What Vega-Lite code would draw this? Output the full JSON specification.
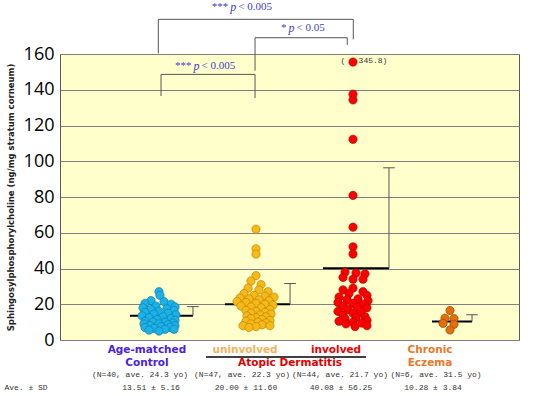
{
  "$schema": "https://vega.github.io/schema/vega-lite/v6.json",
  "width": 459,
  "height": 286,
  "autosize": {"type": "none"},
  "padding": {"left": 60, "top": 54, "right": 31, "bottom": 54},
  "background": "white",
  "config": {
    "view": {"fill": "#FFFFCC", "stroke": "#5a5a5a", "strokeWidth": 1},
    "axisY": {
      "grid": true, "gridColor": "#7f7f7f", "gridWidth": 1, "gridOpacity": 1,
      "domain": false, "ticks": false,
      "labelFont": "Open Sans", "labelFontSize": 18, "labelColor": "#000000", "labelPadding": 6,
      "titleFont": "DejaVu Sans", "titleFontSize": 8.5, "titleFontWeight": "bold", "titleColor": "#222222", "titlePadding": 8
    }
  },
  "datasets": {
    "points": [
      {"group": "Control", "x": 1.0, "value": 27.0},
      {"group": "Control", "x": 1.01, "value": 25.0},
      {"group": "Control", "x": 0.918, "value": 22.0},
      {"group": "Control", "x": 1.052, "value": 21.5},
      {"group": "Control", "x": 0.856, "value": 20.5},
      {"group": "Control", "x": 1.124, "value": 20.0},
      {"group": "Control", "x": 0.969, "value": 19.0},
      {"group": "Control", "x": 1.165, "value": 18.5},
      {"group": "Control", "x": 0.835, "value": 18.0},
      {"group": "Control", "x": 1.082, "value": 17.5},
      {"group": "Control", "x": 0.918, "value": 17.0},
      {"group": "Control", "x": 1.155, "value": 16.5},
      {"group": "Control", "x": 1.0, "value": 16.0},
      {"group": "Control", "x": 0.856, "value": 15.5},
      {"group": "Control", "x": 1.093, "value": 15.0},
      {"group": "Control", "x": 0.948, "value": 14.5},
      {"group": "Control", "x": 1.175, "value": 14.0},
      {"group": "Control", "x": 0.825, "value": 13.5},
      {"group": "Control", "x": 1.041, "value": 13.0},
      {"group": "Control", "x": 0.897, "value": 12.5},
      {"group": "Control", "x": 1.124, "value": 12.0},
      {"group": "Control", "x": 0.979, "value": 11.5},
      {"group": "Control", "x": 1.165, "value": 11.0},
      {"group": "Control", "x": 0.856, "value": 10.5},
      {"group": "Control", "x": 1.062, "value": 10.0},
      {"group": "Control", "x": 0.938, "value": 10.0},
      {"group": "Control", "x": 1.144, "value": 9.5},
      {"group": "Control", "x": 0.845, "value": 9.0},
      {"group": "Control", "x": 1.0, "value": 9.0},
      {"group": "Control", "x": 1.093, "value": 8.5},
      {"group": "Control", "x": 0.907, "value": 8.0},
      {"group": "Control", "x": 1.165, "value": 8.0},
      {"group": "Control", "x": 1.021, "value": 7.5},
      {"group": "Control", "x": 0.856, "value": 7.0},
      {"group": "Control", "x": 1.113, "value": 7.0},
      {"group": "Control", "x": 0.948, "value": 6.5},
      {"group": "Control", "x": 1.062, "value": 6.0},
      {"group": "Control", "x": 1.155, "value": 6.0},
      {"group": "Control", "x": 0.897, "value": 5.5},
      {"group": "Control", "x": 1.0, "value": 5.0},
      {"group": "uninvolved", "x": 2.0, "value": 62},
      {"group": "uninvolved", "x": 2.0, "value": 51},
      {"group": "uninvolved", "x": 2.0, "value": 48},
      {"group": "uninvolved", "x": 2.0, "value": 36},
      {"group": "uninvolved", "x": 1.948, "value": 33},
      {"group": "uninvolved", "x": 2.052, "value": 31},
      {"group": "uninvolved", "x": 1.918, "value": 29},
      {"group": "uninvolved", "x": 2.031, "value": 28},
      {"group": "uninvolved", "x": 2.124, "value": 27},
      {"group": "uninvolved", "x": 1.876, "value": 26},
      {"group": "uninvolved", "x": 1.979, "value": 25},
      {"group": "uninvolved", "x": 2.093, "value": 24.5},
      {"group": "uninvolved", "x": 2.186, "value": 24},
      {"group": "uninvolved", "x": 1.835, "value": 23.5},
      {"group": "uninvolved", "x": 1.928, "value": 23},
      {"group": "uninvolved", "x": 2.031, "value": 22.5},
      {"group": "uninvolved", "x": 2.134, "value": 22},
      {"group": "uninvolved", "x": 1.804, "value": 21.5},
      {"group": "uninvolved", "x": 1.897, "value": 21},
      {"group": "uninvolved", "x": 2.0, "value": 20.5},
      {"group": "uninvolved", "x": 2.093, "value": 20},
      {"group": "uninvolved", "x": 2.175, "value": 19.5},
      {"group": "uninvolved", "x": 1.845, "value": 19},
      {"group": "uninvolved", "x": 1.948, "value": 18.5},
      {"group": "uninvolved", "x": 2.052, "value": 18},
      {"group": "uninvolved", "x": 2.144, "value": 17},
      {"group": "uninvolved", "x": 1.897, "value": 16.5},
      {"group": "uninvolved", "x": 2.0, "value": 16},
      {"group": "uninvolved", "x": 2.093, "value": 15.5},
      {"group": "uninvolved", "x": 1.948, "value": 15},
      {"group": "uninvolved", "x": 2.155, "value": 14.5},
      {"group": "uninvolved", "x": 2.041, "value": 14},
      {"group": "uninvolved", "x": 1.907, "value": 13.5},
      {"group": "uninvolved", "x": 2.103, "value": 13},
      {"group": "uninvolved", "x": 2.0, "value": 12.5},
      {"group": "uninvolved", "x": 1.948, "value": 12},
      {"group": "uninvolved", "x": 2.062, "value": 11.5},
      {"group": "uninvolved", "x": 2.144, "value": 11},
      {"group": "uninvolved", "x": 1.897, "value": 10.5},
      {"group": "uninvolved", "x": 2.021, "value": 10},
      {"group": "uninvolved", "x": 2.103, "value": 9.5},
      {"group": "uninvolved", "x": 1.948, "value": 9},
      {"group": "uninvolved", "x": 2.062, "value": 8.5},
      {"group": "uninvolved", "x": 1.866, "value": 8},
      {"group": "uninvolved", "x": 2.144, "value": 8},
      {"group": "uninvolved", "x": 2.0, "value": 7.5},
      {"group": "uninvolved", "x": 1.928, "value": 7},
      {"group": "involved", "x": 3.0, "value": 155.5},
      {"group": "involved", "x": 3.0, "value": 137.5},
      {"group": "involved", "x": 3.0, "value": 134.3},
      {"group": "involved", "x": 3.0, "value": 112.3},
      {"group": "involved", "x": 3.0, "value": 80.9},
      {"group": "involved", "x": 3.0, "value": 63.1},
      {"group": "involved", "x": 3.0, "value": 52.1},
      {"group": "involved", "x": 3.0, "value": 48.1},
      {"group": "involved", "x": 2.918, "value": 38},
      {"group": "involved", "x": 3.031, "value": 37.5},
      {"group": "involved", "x": 3.124, "value": 37},
      {"group": "involved", "x": 2.897, "value": 35},
      {"group": "involved", "x": 3.0, "value": 34},
      {"group": "involved", "x": 3.103, "value": 34},
      {"group": "involved", "x": 3.0, "value": 29},
      {"group": "involved", "x": 2.897, "value": 28},
      {"group": "involved", "x": 3.103, "value": 27},
      {"group": "involved", "x": 2.959, "value": 26},
      {"group": "involved", "x": 3.144, "value": 25},
      {"group": "involved", "x": 2.856, "value": 24},
      {"group": "involved", "x": 3.052, "value": 23},
      {"group": "involved", "x": 2.938, "value": 22.5},
      {"group": "involved", "x": 3.155, "value": 22},
      {"group": "involved", "x": 2.845, "value": 21},
      {"group": "involved", "x": 3.0, "value": 20.5},
      {"group": "involved", "x": 3.103, "value": 20},
      {"group": "involved", "x": 2.897, "value": 19},
      {"group": "involved", "x": 3.041, "value": 18.5},
      {"group": "involved", "x": 3.144, "value": 18},
      {"group": "involved", "x": 2.948, "value": 17},
      {"group": "involved", "x": 2.845, "value": 16},
      {"group": "involved", "x": 3.082, "value": 15.5},
      {"group": "involved", "x": 3.0, "value": 15},
      {"group": "involved", "x": 2.897, "value": 14},
      {"group": "involved", "x": 3.124, "value": 13},
      {"group": "involved", "x": 3.031, "value": 12.5},
      {"group": "involved", "x": 2.918, "value": 12},
      {"group": "involved", "x": 3.144, "value": 11},
      {"group": "involved", "x": 2.856, "value": 10.5},
      {"group": "involved", "x": 3.0, "value": 10},
      {"group": "involved", "x": 3.093, "value": 9.5},
      {"group": "involved", "x": 2.928, "value": 9},
      {"group": "involved", "x": 3.144, "value": 8},
      {"group": "involved", "x": 3.021, "value": 7.5},
      {"group": "Chronic", "x": 4.0, "value": 16.5},
      {"group": "Chronic", "x": 3.948, "value": 12.2},
      {"group": "Chronic", "x": 4.041, "value": 12.0},
      {"group": "Chronic", "x": 3.928, "value": 9.3},
      {"group": "Chronic", "x": 4.041, "value": 8.8},
      {"group": "Chronic", "x": 4.0, "value": 5.6}
    ],
    "stats": [
      {"group": "Control", "mean": 13.51, "sd": 5.16, "start": 0.70, "end": 1.35},
      {"group": "uninvolved", "mean": 20.0, "sd": 11.6, "start": 1.68, "end": 2.351},
      {"group": "involved", "mean": 40.08, "sd": 56.25, "start": 2.691, "end": 3.371},
      {"group": "Chronic", "mean": 10.28, "sd": 3.84, "start": 3.814, "end": 4.227}
    ],
    "brackets": [
      {"x": 0.993, "x2": 3.003, "y": 179.4, "y2": 179.4},
      {"x": 0.993, "x2": 0.993, "y": 179.4, "y2": 160.4},
      {"x": 3.003, "x2": 3.003, "y": 179.4, "y2": 168.2},
      {"x": 1.99, "x2": 2.941, "y": 169.1, "y2": 169.1},
      {"x": 1.99, "x2": 1.99, "y": 169.1, "y2": 150.7},
      {"x": 2.941, "x2": 2.941, "y": 169.1, "y2": 165.0},
      {"x": 1.021, "x2": 1.99, "y": 148.6, "y2": 148.6},
      {"x": 1.021, "x2": 1.021, "y": 148.6, "y2": 136.5},
      {"x": 1.99, "x2": 1.99, "y": 148.6, "y2": 135.4}
    ],
    "ptext": [
      {"x": 1.765, "y": 186.3, "stars": "***", "rest": "< 0.005"},
      {"x": 2.366, "y": 174.4, "stars": "*", "rest": "< 0.05"},
      {"x": 1.387, "y": 153.3, "stars": "***", "rest": "< 0.005"}
    ],
    "labels": [
      {"text": "Age-matched", "cat": "ctrl", "x": 0.876, "y": -5.6},
      {"text": "Control", "cat": "ctrl", "x": 0.876, "y": -12.6},
      {"text": "uninvolved", "cat": "uninv", "x": 1.887, "y": -5.6},
      {"text": "involved", "cat": "inv", "x": 2.825, "y": -5.6},
      {"text": "Atopic Dermatitis", "cat": "ad", "x": 2.351, "y": -12.9},
      {"text": "Chronic", "cat": "ce", "x": 3.794, "y": -5.6},
      {"text": "Eczema", "cat": "ce", "x": 3.794, "y": -12.6}
    ],
    "notes": [
      {"text": "(N=40, ave. 24.3 yo)", "x": 0.804, "y": -19.6},
      {"text": "(N=47, ave. 22.3 yo)", "x": 1.856, "y": -19.6},
      {"text": "(N=44, ave. 21.7 yo)", "x": 2.866, "y": -19.6},
      {"text": "(N=6, ave. 31.5 yo)", "x": 3.856, "y": -19.6},
      {"text": "13.51 ± 5.16", "x": 0.918, "y": -26.9},
      {"text": "20.00 ± 11.60", "x": 1.897, "y": -26.9},
      {"text": "40.08 ± 56.25", "x": 2.876, "y": -26.9},
      {"text": "10.28 ± 3.84", "x": 3.825, "y": -26.9},
      {"text": "Ave. ± SD", "x": -0.371, "y": -26.9},
      {"text": "(", "x": 2.897, "y": 156.1},
      {"text": "345.8)", "x": 3.206, "y": 156.1}
    ],
    "underline": [
      {"x": 1.485, "x2": 3.134, "y": -9.5}
    ]
  },
  "layer": [
    {
      "data": {"name": "brackets"},
      "mark": {"type": "rule", "color": "#555555", "strokeWidth": 1},
      "encoding": {
        "x": {"field": "x", "type": "quantitative", "scale": {"domain": [-0.0206, 4.7113], "nice": false, "zero": false}, "axis": null},
        "x2": {"field": "x2"},
        "y": {"field": "y", "type": "quantitative", "scale": {"domain": [0, 160], "nice": false, "zero": false},
          "axis": {"values": [0, 20, 40, 60, 80, 100, 120, 140, 160], "title": "Sphingosylphosphorylcholine (ng/mg stratum corneum)"}},
        "y2": {"field": "y2"}
      }
    },
    {
      "data": {"name": "stats"},
      "mark": {"type": "rule", "color": "#000000", "strokeWidth": 2},
      "encoding": {
        "x": {"field": "start", "type": "quantitative", "scale": {"domain": [-0.0206, 4.7113], "nice": false, "zero": false}, "axis": null},
        "x2": {"field": "end"},
        "y": {"field": "mean", "type": "quantitative", "scale": {"domain": [0, 160], "nice": false, "zero": false},
          "axis": {"values": [0, 20, 40, 60, 80, 100, 120, 140, 160], "title": "Sphingosylphosphorylcholine (ng/mg stratum corneum)"}}
      }
    },
    {
      "data": {"name": "stats"},
      "transform": [{"calculate": "datum.mean + datum.sd", "as": "upper"}],
      "mark": {"type": "rule", "color": "#555555", "strokeWidth": 1},
      "encoding": {
        "x": {"field": "end", "type": "quantitative", "scale": {"domain": [-0.0206, 4.7113], "nice": false, "zero": false}, "axis": null},
        "y": {"field": "mean", "type": "quantitative", "scale": {"domain": [0, 160], "nice": false, "zero": false},
          "axis": {"values": [0, 20, 40, 60, 80, 100, 120, 140, 160], "title": "Sphingosylphosphorylcholine (ng/mg stratum corneum)"}},
        "y2": {"field": "upper"}
      }
    },
    {
      "data": {"name": "stats"},
      "transform": [
        {"calculate": "datum.mean + datum.sd", "as": "upper"},
        {"calculate": "datum.end - 0.06", "as": "capL"},
        {"calculate": "datum.end + 0.06", "as": "capR"}
      ],
      "mark": {"type": "rule", "color": "#555555", "strokeWidth": 1},
      "encoding": {
        "x": {"field": "capL", "type": "quantitative", "scale": {"domain": [-0.0206, 4.7113], "nice": false, "zero": false}, "axis": null},
        "x2": {"field": "capR"},
        "y": {"field": "upper", "type": "quantitative", "scale": {"domain": [0, 160], "nice": false, "zero": false},
          "axis": {"values": [0, 20, 40, 60, 80, 100, 120, 140, 160], "title": "Sphingosylphosphorylcholine (ng/mg stratum corneum)"}}
      }
    },
    {
      "data": {"name": "points"},
      "mark": {"type": "circle", "size": 68, "opacity": 1, "strokeWidth": 0.7},
      "encoding": {
        "x": {"field": "x", "type": "quantitative", "scale": {"domain": [-0.0206, 4.7113], "nice": false, "zero": false}, "axis": null},
        "y": {"field": "value", "type": "quantitative", "scale": {"domain": [0, 160], "nice": false, "zero": false},
          "axis": {"values": [0, 20, 40, 60, 80, 100, 120, 140, 160], "title": "Sphingosylphosphorylcholine (ng/mg stratum corneum)"}},
        "fill": {"field": "group", "type": "nominal", "legend": null,
          "scale": {"domain": ["Control", "uninvolved", "involved", "Chronic"], "range": ["#1BB2E8", "#F7B81A", "#FF0000", "#E26E10"]}},
        "stroke": {"field": "group", "type": "nominal", "legend": null,
          "scale": {"domain": ["Control", "uninvolved", "involved", "Chronic"], "range": ["#137DB0", "#B98A00", "#B00000", "#9E4A00"]}}
      }
    },
    {
      "data": {"name": "underline"},
      "mark": {"type": "rule", "color": "#000000", "strokeWidth": 1.5},
      "encoding": {
        "x": {"field": "x", "type": "quantitative", "scale": {"domain": [-0.0206, 4.7113], "nice": false, "zero": false}, "axis": null},
        "x2": {"field": "x2"},
        "y": {"field": "y", "type": "quantitative", "scale": {"domain": [0, 160], "nice": false, "zero": false},
          "axis": {"values": [0, 20, 40, 60, 80, 100, 120, 140, 160], "title": "Sphingosylphosphorylcholine (ng/mg stratum corneum)"}}
      }
    },
    {
      "data": {"name": "labels"},
      "mark": {"type": "text", "font": "DejaVu Sans", "fontWeight": "bold", "fontSize": 10.5, "align": "center", "baseline": "middle"},
      "encoding": {
        "x": {"field": "x", "type": "quantitative", "scale": {"domain": [-0.0206, 4.7113], "nice": false, "zero": false}, "axis": null},
        "y": {"field": "y", "type": "quantitative", "scale": {"domain": [0, 160], "nice": false, "zero": false},
          "axis": {"values": [0, 20, 40, 60, 80, 100, 120, 140, 160], "title": "Sphingosylphosphorylcholine (ng/mg stratum corneum)"}},
        "text": {"field": "text"},
        "color": {"field": "cat", "type": "nominal", "legend": null,
          "scale": {"domain": ["ctrl", "uninv", "inv", "ad", "ce"], "range": ["#4A22E0", "#F2B45C", "#F00000", "#E00000", "#E8782A"]}}
      }
    },
    {
      "data": {"name": "notes"},
      "mark": {"type": "text", "font": "Liberation Mono", "fontSize": 8, "align": "center", "baseline": "middle", "color": "#333333"},
      "encoding": {
        "x": {"field": "x", "type": "quantitative", "scale": {"domain": [-0.0206, 4.7113], "nice": false, "zero": false}, "axis": null},
        "y": {"field": "y", "type": "quantitative", "scale": {"domain": [0, 160], "nice": false, "zero": false},
          "axis": {"values": [0, 20, 40, 60, 80, 100, 120, 140, 160], "title": "Sphingosylphosphorylcholine (ng/mg stratum corneum)"}},
        "text": {"field": "text"}
      }
    },
    {
      "data": {"name": "ptext"},
      "mark": {"type": "text", "font": "Liberation Serif", "fontSize": 11, "align": "right", "baseline": "middle", "dx": -5, "color": "#4040CC"},
      "encoding": {
        "x": {"field": "x", "type": "quantitative", "scale": {"domain": [-0.0206, 4.7113], "nice": false, "zero": false}, "axis": null},
        "y": {"field": "y", "type": "quantitative", "scale": {"domain": [0, 160], "nice": false, "zero": false},
          "axis": {"values": [0, 20, 40, 60, 80, 100, 120, 140, 160], "title": "Sphingosylphosphorylcholine (ng/mg stratum corneum)"}},
        "text": {"field": "stars"}
      }
    },
    {
      "data": {"name": "ptext"},
      "mark": {"type": "text", "font": "Liberation Serif", "fontSize": 12, "fontStyle": "italic", "align": "center", "baseline": "middle", "color": "#4040CC", "text": "p"},
      "encoding": {
        "x": {"field": "x", "type": "quantitative", "scale": {"domain": [-0.0206, 4.7113], "nice": false, "zero": false}, "axis": null},
        "y": {"field": "y", "type": "quantitative", "scale": {"domain": [0, 160], "nice": false, "zero": false},
          "axis": {"values": [0, 20, 40, 60, 80, 100, 120, 140, 160], "title": "Sphingosylphosphorylcholine (ng/mg stratum corneum)"}}
      }
    },
    {
      "data": {"name": "ptext"},
      "mark": {"type": "text", "font": "Liberation Serif", "fontSize": 11, "align": "left", "baseline": "middle", "dx": 5, "color": "#4040CC"},
      "encoding": {
        "x": {"field": "x", "type": "quantitative", "scale": {"domain": [-0.0206, 4.7113], "nice": false, "zero": false}, "axis": null},
        "y": {"field": "y", "type": "quantitative", "scale": {"domain": [0, 160], "nice": false, "zero": false},
          "axis": {"values": [0, 20, 40, 60, 80, 100, 120, 140, 160], "title": "Sphingosylphosphorylcholine (ng/mg stratum corneum)"}},
        "text": {"field": "rest"}
      }
    }
  ]
}
